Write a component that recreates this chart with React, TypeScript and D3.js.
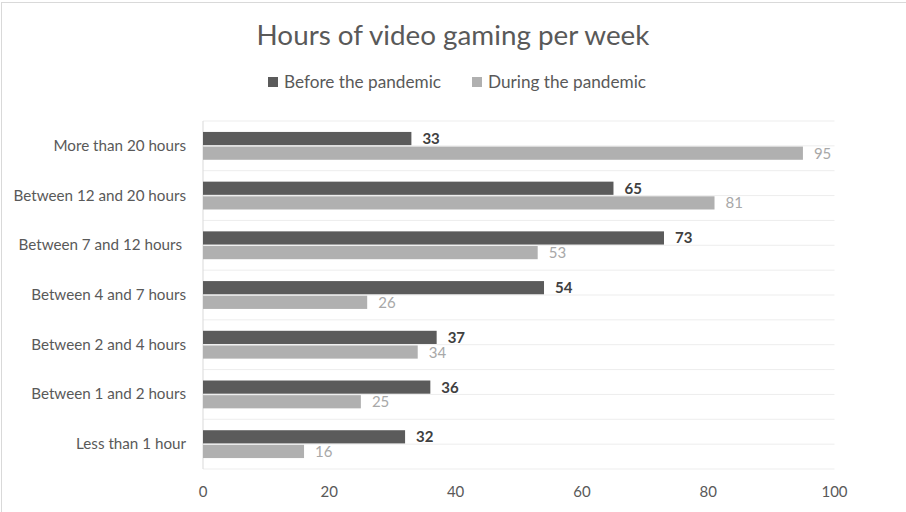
import React from "react";
import * as d3 from "d3";

const categories = [
  "More than 20 hours",
  "Between 12 and 20 hours",
  "Between 7 and 12 hours ",
  "Between 4 and 7 hours",
  "Between 2 and 4 hours",
  "Between 1 and 2 hours",
  "Less than 1 hour",
];
const seriesNames = ["Before the pandemic", "During the pandemic"];
const beforeValues = [33, 65, 73, 54, 37, 36, 32];
const duringValues = [95, 81, 53, 26, 34, 25, 16];
const xTicks = [0, 20, 40, 60, 80, 100];

const W = 906;
const H = 512;
const FONT = "Lato, 'Open Sans', sans-serif";
const barColors = ["#5B5B5B", "#B0B0B0"];
const labelColors = ["#404040", "#A8A8A8"];
const textColor = "#595959";

export default function App() {
  const margin = { left: 203, right: 906 - 834.5, top: 121, bottom: 512 - 469 };
  const x = d3.scaleLinear().domain([0, 100]).range([margin.left, W - margin.right]);
  const y0 = d3
    .scaleBand<string>()
    .domain(categories)
    .range([margin.top, H - margin.bottom])
    .paddingInner(0.44)
    .paddingOuter(0.22);
  const y1 = d3.scaleBand<string>().domain(seriesNames).range([0, y0.bandwidth()]).paddingInner(0.1);
  const step = y0.step();
  const gridYs = d3.range(0, categories.length * 2 + 1).map((k) => margin.top + (k * step) / 2);
  const series = [beforeValues, duringValues];

  return (
    <svg
      width={W}
      height={H}
      style={{ position: "absolute", left: 0, top: 0, background: "#fff", fontFamily: FONT }}
    >
      <rect x={1.5} y={2.5} width={W + 10} height={H + 10} fill="#fff" stroke="#D9D9D9" strokeWidth={1} />
      <text x={453} y={45} textAnchor="middle" fontSize={27.8} fill={textColor}>
        Hours of video gaming per week
      </text>
      {seriesNames.map((s, i) => {
        const lx = i === 0 ? 268 : 472;
        return (
          <g key={s}>
            <rect x={lx} y={77} width={10} height={10} fill={barColors[i]} />
            <text x={lx + 16} y={88} fontSize={17.2} fill={textColor}>
              {s}
            </text>
          </g>
        );
      })}
      {gridYs.map((gy, k) => (
        <line key={k} x1={x(0)} x2={x(100)} y1={gy} y2={gy} stroke="#EDEDED" strokeWidth={1} />
      ))}
      <line x1={x(0)} x2={x(0)} y1={margin.top} y2={H - margin.bottom} stroke="#D9D9D9" strokeWidth={1} />
      {categories.map((c, ci) => (
        <g key={c}>
          <text
            x={186}
            y={(y0(c) as number) + y0.bandwidth() / 2 + 5}
            textAnchor="end"
            fontSize={15.2}
            fill={textColor}
            style={{ whiteSpace: "pre" }}
          >
            {c}
          </text>
          {seriesNames.map((s, si) => {
            const v = series[si][ci];
            const by = (y0(c) as number) + (y1(s) as number);
            return (
              <g key={s}>
                <rect x={x(0)} y={by} width={x(v) - x(0)} height={y1.bandwidth()} fill={barColors[si]} />
                <text
                  x={x(v) + 11}
                  y={by + y1.bandwidth() / 2 + 5.5}
                  fontSize={15}
                  fontWeight={si === 0 ? 700 : 400}
                  fill={labelColors[si]}
                >
                  {v}
                </text>
              </g>
            );
          })}
        </g>
      ))}
      {xTicks.map((t) => (
        <text key={t} x={x(t)} y={497} textAnchor="middle" fontSize={15} fill={textColor}>
          {t}
        </text>
      ))}
    </svg>
  );
}
